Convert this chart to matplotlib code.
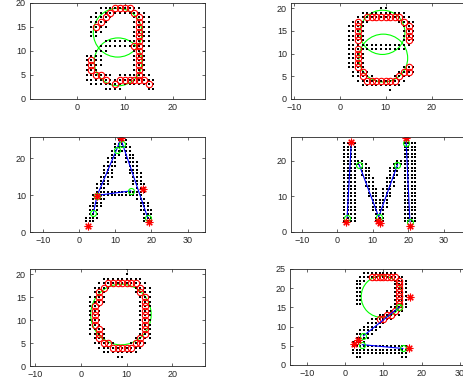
import numpy as np
import matplotlib
matplotlib.use("Agg")
from matplotlib import pyplot as plt
from matplotlib.patches import Circle

plt.rcParams["font.family"] = ["Liberation Sans", "DejaVu Sans"]

# sample grids of the letters, '#' = sample point, 'o' = sample point picked on the stroke
# first column is at x0, first row at y_top
a_x0, a_top = 2, 19
a_rows = [
    "...###oooo##...",
    "..###o####o##..",
    ".###o#....#o##.",
    ".##o#.....#o##.",
    ".#o##.....#o##.",
    ".###......#o##.",
    ".##.......#o##.",
    "....#######o##.",
    "...#######oo##.",
    "..###.....#o#..",
    "####......#o#..",
    "#o##......#o#..",
    "#o##......#o#..",
    "#o#.......#o#..",
    "##oo##.####o##.",
    "####o##oooooo##",
    ".#####o######o#",
    "....####.....##",
]

e_x0, e_top = 2, 20
e_rows = [
    ".......##......",
    "...##########..",
    "..##oooooooo##.",
    ".#o##......#o##",
    "##o#........#o#",
    "##o#........#o#",
    "##o#........#o#",
    "##o#........#o#",
    "##############.",
    "##o##########..",
    "##o#...........",
    "##o#...........",
    "##o#...........",
    "##o#........#o#",
    ".##o#......#oo#",
    ".##o##....#o##.",
    "..##ooooooo##..",
    "...#########...",
    ".........#.....",
]

A_x0, A_top = 2, 25
A_rows = [
    ".........###.......",
    "........####.......",
    "........#####......",
    ".......######......",
    ".......###.###.....",
    "......###..###.....",
    "......###..####....",
    ".....####...###....",
    ".....###....###....",
    ".....###....####...",
    "....####.....###...",
    "....###......###...",
    "...####......####..",
    "...###........###..",
    "...##############..",
    "..##############...",
    "..####........###..",
    "..###..........###.",
    ".####..........###.",
    ".###...........####",
    ".###............###",
    "####............###",
    "###.............###",
]

M_x0, M_top = 2, 25
M_rows = [
    "####.............####",
    "####.............####",
    "####.............####",
    "####.............####",
    "####.............####",
    "######.........######",
    "#######.......#######",
    "####.###.....###.####",
    "####.###.....###.####",
    "####.###.....###.####",
    "####..###...###..####",
    "####..###...###..####",
    "####..###...###..####",
    "####...###.###...####",
    "####...###.###...####",
    "####...###.###...####",
    "####....#####....####",
    "####....#####....####",
    "####....#####....####",
    "####....####.....####",
    "####.....###.....####",
    "####.....###.....####",
    "####.....###.....####",
]

O_x0, O_top = 2, 21
O_rows = [
    "........#.....",
    "........#.....",
    "...#########..",
    "..##ooooooo##.",
    ".##o#.....#o##",
    ".#o#......#o##",
    "##o#.......#o#",
    "##o#.......#o#",
    "#o#........#o#",
    "#o#........#o#",
    "#o#........#o#",
    "#o#........#o#",
    "#o#........#o#",
    "##o#.......#o#",
    "##o#.......#o#",
    ".#o#......#o##",
    ".##oo#...#oo#.",
    "..###ooooo##..",
    "...########...",
    "......##......",
]

two_x0, two_top = 2, 24
two_rows = [
    "...#########....",
    "..###ooooooo##..",
    ".###.......#o##.",
    ".##........#o##.",
    ".##........#o##.",
    ".##........#o##.",
    ".##........#o##.",
    ".##........#o##.",
    ".##........#o##.",
    "..........##o##.",
    ".........##o##..",
    ".......##oo##...",
    ".....##oo##.....",
    "....#####.......",
    "...#####........",
    "..#####.........",
    ".#####..........",
    ".####...........",
    "####............",
    "###############.",
    "###############.",
    "###############.",
    ".##..........##.",
]

# fitted circles (centre x, centre y, radius)
a_circ_x, a_circ_y, a_circ_r = [8.5, 8.6], [13.8, 7.7], [5.1, 5.0]
e_circ_x, e_circ_y, e_circ_r = [9.3, 9.5], [14.7, 9.0], [4.9, 5.3]
O_circ_x, O_circ_y, O_circ_r = [8.75], [11.2], [6.6]
two_circ_x, two_circ_y, two_circ_r = [9.6], [17.8], [5.4]

# stroke end points / fitted segments
A_green_x = [4, 5, 10.4, 12, 14.3, 19]
A_green_y = [5.2, 9.9, 22.4, 24, 11.2, 3.9]
A_star_x = [2.6, 4.9, 11.5, 17.7, 19.3]
A_star_y = [1.7, 9.8, 25.6, 11.7, 2.7]
A_lines = [([4, 5, 10.4, 11.5, 12, 19], [5.2, 9.9, 22.4, 25.2, 24, 3.9]),
           ([5, 14.3], [10, 11.2])]

M_green_x = [2.8, 6.2, 11.7, 17, 19.5, 20.5]
M_green_y = [4, 18.9, 4.2, 18.9, 24.9, 2.8]
M_star_x = [2.6, 4, 11.6, 12.1, 19.4, 20.5]
M_star_y = [2.6, 25.4, 2.9, 2.4, 26.3, 1.7]
M_lines = [([2.8, 4], [4, 25.4]),
           ([6.2, 11.7, 17], [18.9, 4.2, 18.9]),
           ([19.4, 20.5], [26.0, 2.8])]

two_green_x = [14.2, 4.8, 4.5, 15.1]
two_green_y = [15.1, 7.6, 5.3, 4.3]
two_star_x = [17.0, 3.3, 2.4, 16.8]
two_star_y = [17.7, 6.5, 5.4, 4.3]
two_lines = [([14.2, 4.8], [15.1, 7.6]), ([4.5, 15.1], [5.3, 4.3])]

GREEN = "#00ff00"
AX_COL = "#262626"
W, H = 463, 387


def bitmap_points(rows, x0, y_top):
    dots, picks = [], []
    for i, row in enumerate(rows):
        for j, ch in enumerate(row):
            if ch in "#o":
                dots.append((x0 + j, y_top - i))
            if ch == "o":
                picks.append((x0 + j, y_top - i))
    return np.array(dots).reshape(-1, 2), np.array(picks).reshape(-1, 2)


def make_axes(fig, box, xlim, ylim, xticks, yticks):
    l, t, r, b = box
    ax = fig.add_axes([l / W, 1 - b / H, (r - l) / W, (b - t) / H])
    ax.set_xlim(xlim)
    ax.set_ylim(ylim)
    ax.set_xticks(xticks)
    ax.set_yticks(yticks)
    ax.tick_params(direction="in", length=2.5, width=0.5, top=True, right=True,
                   labelsize=6.5, colors=AX_COL, pad=3)
    for sp in ax.spines.values():
        sp.set_linewidth(0.6)
        sp.set_color(AX_COL)
    return ax


def draw_letter(ax, rows, x0, y_top):
    dots, picks = bitmap_points(rows, x0, y_top)
    ax.plot(dots[:, 0], dots[:, 1], "s", color="k", ms=1.6, mew=0)
    if len(picks):
        ax.plot(picks[:, 0], picks[:, 1], "o", mfc="none", mec="red", ms=4.6, mew=0.8)


def draw_circles(ax, cx, cy, cr):
    for x, y, r in zip(cx, cy, cr):
        ax.add_patch(Circle((x, y), r, fill=False, ec=GREEN, lw=0.8))


def draw_strokes(ax, lines, gx, gy, sx, sy):
    for lx, ly in lines:
        ax.plot(lx, ly, "-", color="blue", lw=0.8)
    ax.plot(gx, gy, "o", mfc="none", mec=GREEN, ms=4.3, mew=0.8)
    ax.plot(sx, sy, marker=(8, 2, 0), ls="none", color="red", ms=5.5, mew=0.8)


fig = plt.figure(figsize=(W / 100, H / 100), dpi=100)

ax1 = make_axes(fig, (30, 3, 205, 98.7), (-9.85, 26.8), (0, 20), [0, 10, 20], [0, 5, 10, 15, 20])
draw_letter(ax1, a_rows, a_x0, a_top)
draw_circles(ax1, a_circ_x, a_circ_y, a_circ_r)

ax2 = make_axes(fig, (291, 3, 466, 98.7), (-10.6, 27.5), (0, 21.2), [-10, 0, 10, 20], [0, 5, 10, 15, 20])
draw_letter(ax2, e_rows, e_x0, e_top)
draw_circles(ax2, e_circ_x, e_circ_y, e_circ_r)

ax3 = make_axes(fig, (30, 137, 205, 232.3), (-13.5, 34.8), (0, 25.8), [-10, 0, 10, 20, 30], [0, 10, 20])
draw_letter(ax3, A_rows, A_x0, A_top)
draw_strokes(ax3, A_lines, A_green_x, A_green_y, A_star_x, A_star_y)

ax4 = make_axes(fig, (291, 137, 466, 231.7), (-13.0, 36.3), (0, 26.7), [-10, 0, 10, 20, 30], [0, 10, 20])
draw_letter(ax4, M_rows, M_x0, M_top)
draw_strokes(ax4, M_lines, M_green_x, M_green_y, M_star_x, M_star_y)

ax5 = make_axes(fig, (30, 269, 205, 366), (-11.1, 27.1), (0, 21.1), [-10, 0, 10, 20], [0, 5, 10, 15, 20])
draw_letter(ax5, O_rows, O_x0, O_top)
draw_circles(ax5, O_circ_x, O_circ_y, O_circ_r)

ax6 = make_axes(fig, (290, 269, 466, 365), (-14.4, 31.6), (0, 25), [-10, 0, 10, 20, 30], [0, 5, 10, 15, 20, 25])
draw_letter(ax6, two_rows, two_x0, two_top)
draw_circles(ax6, two_circ_x, two_circ_y, two_circ_r)
draw_strokes(ax6, two_lines, two_green_x, two_green_y, two_star_x, two_star_y)

fig.savefig("out.png", dpi=100)
